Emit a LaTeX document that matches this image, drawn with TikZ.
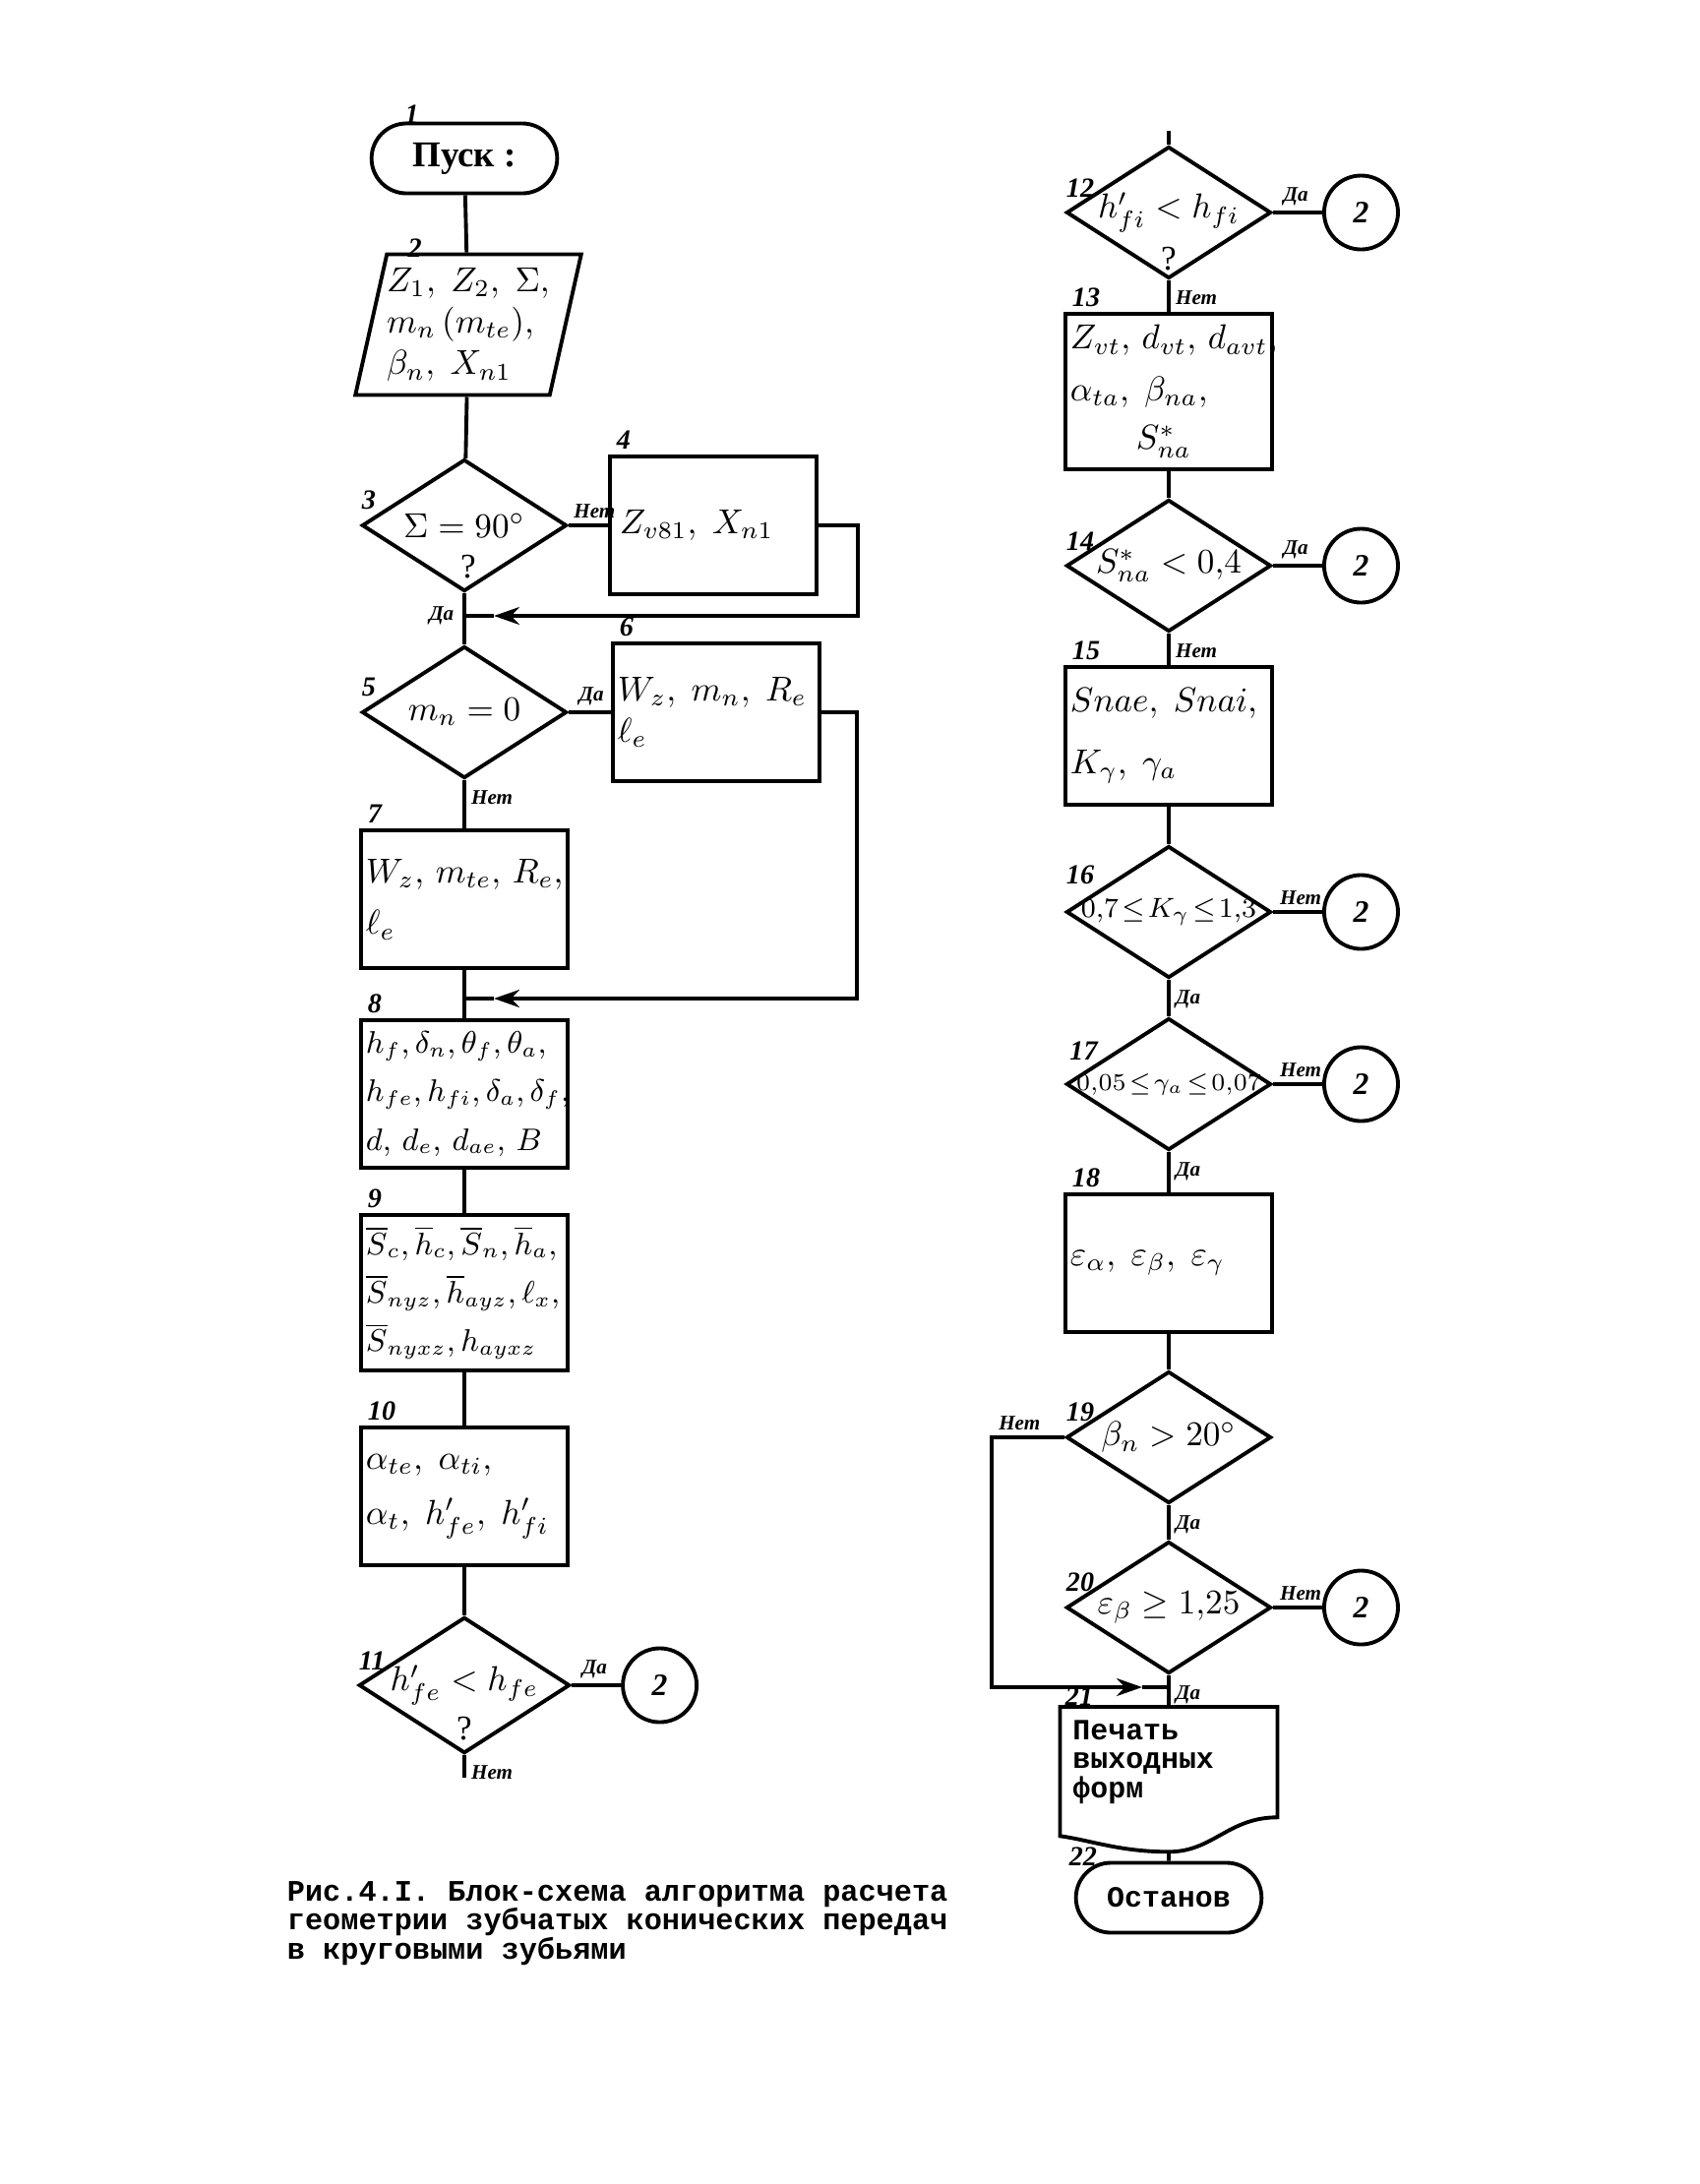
\documentclass[tikz,border=0pt]{standalone}
\usepackage{fontspec}
\setmainfont{Liberation Serif}
\newfontfamily\typefont{Liberation Mono}
\usetikzlibrary{positioning, arrows.meta, shapes.geometric, shapes.misc}

\begin{document}
\begin{tikzpicture}[
    x=0.01cm, y=-0.01cm,
    line width=1.1pt,
    term/.style={
        rounded rectangle,
        draw,
        minimum width=2.12cm,
        minimum height=0.71cm
    },
    io/.style={
        trapezium,
        trapezium left angle=77,
        trapezium right angle=103,
        trapezium stretches=true,
        draw,
        align=left,
        inner xsep=0pt,
        font=\normalsize,
        minimum width=2.09cm,
        minimum height=1.43cm
    },
    box/.style={
        rectangle,
        draw,
        align=left,
        font=\normalsize,
        text width=2.0cm,
        inner xsep=0.05cm,
        minimum height=1.4cm
    },
    dec/.style={
        diamond,
        draw,
        aspect=1.55,
        inner sep=0pt,
        font=\normalsize,
        minimum width=2.08cm,
        minimum height=1.34cm
    },
    conn/.style={
        circle,
        draw,
        minimum size=0.75cm,
        inner sep=0pt,
        font=\small\bfseries\itshape
    },
    num/.style={
        font=\footnotesize\bfseries\itshape,
        inner sep=0pt
    },
    yesno/.style={
        font={\fontsize{6}{7}\selectfont\bfseries\itshape},
        inner sep=0.5pt
    },
    arrow/.style={
        -{Stealth[length=2.6mm, width=1.8mm]}
    }
]
\useasboundingbox (0,0) rectangle (1728,2220);

% Left column
\node[term, font={\bfseries\fontsize{10.5}{12}\selectfont}] (t1) at (472,161) {Пуск :};

\node[io] (p2) at (476,330) {
    $Z_1,\; Z_2,\; \Sigma,$\\
    $m_n\,(m_{te}),$\\
    $\beta_n,\; X_{n1}$
};

\node[dec] (d3) at (472,534) {$\Sigma = 90^\circ$};
\node (q3) at (476,576) {?};

\node[box, right=0.4cm of d3] (b4) {\hspace*{0.05cm}$Z_{v81},\; X_{n1}$};

\coordinate (j3) at (472,626);

\node[dec] (d5) at (472,724) {$m_n = 0$};

\node[box, right=0.43cm of d5] (b6) {
    $W_z,\; m_n,\; R_e$\\
    $\ell_e$
};

\node[box] (b7) at (472,914) {
    $W_z,\, m_{te},\, R_e,$\\[3pt]
    $\ell_e$
};

\coordinate (j7) at (472,1015);

\node[box, font=\small] (b8) at (472,1112) {
    $h_f, \delta_n, \theta_f, \theta_a,$\\[3pt]
    $h_{fe}, h_{fi}, \delta_a, \delta_f,$\\[3pt]
    $d,\, d_e,\, d_{ae},\, B$
};

\node[box, font=\small] (b9) at (472,1314) {
    $\overline{S}_c, \overline{h}_c, \overline{S}_n, \overline{h}_a,$\\[3pt]
    $\overline{S}_{nyz}, \overline{h}_{ayz}, \ell_x,$\\[3pt]
    $\overline{S}_{nyxz}, h_{ayxz}$
};

\node[box] (b10) at (472,1521) {
    $\alpha_{te},\; \alpha_{ti},$\\[4pt]
    $\alpha_t,\; h'_{fe},\; h'_{fi}$
};

\node[dec] (d11) at (472,1713) {$h'_{fe} < h_{fe}$};
\node (q11) at (472,1757) {?};
\node[conn, right=0.5cm of d11] (c11) {2};
\coordinate (end11) at (472,1807);

% Right column
\coordinate (top12) at (1188,133);

\node[dec] (d12) at (1188,216) {$h'_{fi} < h_{fi}$};
\node (q12) at (1188,263) {?};
\node[conn, right=0.5cm of d12] (c12) {2};

\node[box] (b13) at (1188,398) {
    $Z_{vt},\, d_{vt},\, d_{avt},$\\[3pt]
    $\alpha_{ta},\; \beta_{na},$\\[2pt]
    \hspace*{0.67cm}$S^{*}_{na}$
};

\node[dec] (d14) at (1188,575) {$S^{*}_{na} < 0{,}4$};
\node[conn, right=0.5cm of d14] (c14) {2};

\node[box] (b15) at (1188,748) {
    $Snae,\; Snai,$\\[6pt]
    $K_\gamma,\; \gamma_a$
};

\node[dec, font=\footnotesize, inner xsep=-4pt] (d16) at (1188,927) {$0{,}7 \!\le\! K_\gamma \!\le\! 1{,}3$};
\node[conn, right=0.5cm of d16] (c16) {2};

\node[dec, font=\scriptsize, inner xsep=-4pt] (d17) at (1188,1102) {$0{,}05 \!\le\! \gamma_a \!\le\! 0{,}07$};
\node[conn, right=0.5cm of d17] (c17) {2};

\node[box] (b18) at (1188,1284) {$\varepsilon_\alpha,\; \varepsilon_\beta,\; \varepsilon_\gamma$};

\node[dec] (d19) at (1188,1461) {$\beta_n > 20^\circ$};

\node[dec] (d20) at (1188,1634) {$\varepsilon_\beta \ge 1{,}25$};
\node[conn, right=0.5cm of d20] (c20) {2};

\coordinate (j19) at (1188,1715);

\node[align=left, text width=1.95cm, minimum width=2.17cm, minimum height=1.03cm,
      inner xsep=0.11cm, anchor=north,
      font={\typefont\bfseries\fontsize{8.5}{8.4}\selectfont}] (doc21) at (1188,1735) {
    Печать\\
    выходных\\
    форм
};
\draw (doc21.north west) -- (doc21.north east) -- (doc21.south east)
    .. controls ([xshift=-0.5cm]doc21.south east) and ([xshift=0.45cm, yshift=-0.35cm]doc21.south)
    .. ([yshift=-0.35cm]doc21.south)
    .. controls ([xshift=-0.5cm, yshift=-0.35cm]doc21.south) and ([xshift=0.3cm, yshift=-0.23cm]doc21.south west)
    .. ([yshift=-0.19cm]doc21.south west) -- cycle;
\coordinate (doc21b) at ([yshift=-0.35cm]doc21.south);

\node[term, font={\typefont\bfseries\fontsize{8.5}{10}\selectfont}] (t22) at (1188,1929) {Останов};

% Block numbers
\node[num, above right=-1pt and -1pt of t1.north west] (n1) {1};
\node[num, above right=-2pt and 6pt of p2.top left corner] (n2) {2};
\node[num, above right=4pt and 0pt of d3.west] (n3) {3};
\node[num, above right=1pt and 2pt of b4.north west] (n4) {4};
\node[num, above right=4pt and 0pt of d5.west] (n5) {5};
\node[num, above right=1pt and 2pt of b6.north west] (n6) {6};
\node[num, above right=1pt and 2pt of b7.north west] (n7) {7};
\node[num, above right=1pt and 2pt of b8.north west] (n8) {8};
\node[num, above right=1pt and 2pt of b9.north west] (n9) {9};
\node[num, above right=1pt and 2pt of b10.north west] (n10) {10};
\node[num, above right=4pt and 0pt of d11.west] (n11) {11};
\node[num, above right=4pt and 0pt of d12.west] (n12) {12};
\node[num, above right=1pt and 2pt of b13.north west] (n13) {13};
\node[num, above right=4pt and 0pt of d14.west] (n14) {14};
\node[num, above right=1pt and 2pt of b15.north west] (n15) {15};
\node[num, above right=7.5pt and 0pt of d16.west] (n16) {16};
\node[num, above right=6.5pt and 1pt of d17.west] (n17) {17};
\node[num, above right=1pt and 2pt of b18.north west] (n18) {18};
\node[num, above right=4pt and 0pt of d19.west] (n19) {19};
\node[num, above right=4pt and 0pt of d20.west] (n20) {20};
\node[num, above right=0pt and 1pt of doc21.north west] (n21) {21};
\node[num, above left=-2pt and 3.5pt of t22.north west] (n22) {22};

% Branch labels
\node[yesno, above right=1pt and 0.5pt of d3.east] (no3) {Нет};
\node[yesno, left=2pt of j3] (yes3) {Да};
\node[yesno, above right=1pt and 2pt of d5.east] (yes5) {Да};
\node[yesno, below right=2pt and 1pt of d5.south] (no5) {Нет};
\node[yesno, above right=1pt and 2pt of d11.east] (yes11) {Да};
\node[yesno, below right=2pt and 1pt of d11.south] (no11) {Нет};
\node[yesno, above right=1pt and 2pt of d12.east] (yes12) {Да};
\node[yesno, below right=2pt and 1pt of d12.south] (no12) {Нет};
\node[yesno, above right=1pt and 2pt of d14.east] (yes14) {Да};
\node[yesno, below right=2pt and 1pt of d14.south] (no14) {Нет};
\node[yesno, above right=1pt and 1pt of d16.east] (no16) {Нет};
\node[yesno, below right=2pt and 1pt of d16.south] (yes16) {Да};
\node[yesno, above right=1pt and 1pt of d17.east] (no17) {Нет};
\node[yesno, below right=2pt and 1pt of d17.south] (yes17) {Да};
\node[yesno, above left=1pt and 6pt of d19.west] (no19) {Нет};
\node[yesno, below right=2pt and 1pt of d19.south] (yes19) {Да};
\node[yesno, above right=1pt and 1pt of d20.east] (no20) {Нет};
\node[yesno, below right=2pt and 1pt of d20.south] (yes20) {Да};

% Caption
\node[anchor=west, align=left, inner sep=0pt,
      font={\typefont\bfseries\fontsize{8.6}{8.3}\selectfont}] (caption) at (290,1955) {
    Рис.4.I. Блок-схема алгоритма расчета\\
    геометрии зубчатых конических передач\\
    в круговыми зубьями
};

% Connectors, left column
\draw (t1) -- (p2);
\draw (p2) -- (d3);
\draw (d3) -- (d5);
\draw (d3) -- (b4);
\draw[arrow] (b4.east) -- ++(40,0) |- ([xshift=0.3cm]j3);
\draw ([xshift=0.3cm]j3) -- (j3);
\draw (d5) -- (b6);
\draw (d5) -- (b7);
\draw[arrow] (b6.east) -- ++(36,0) |- ([xshift=0.3cm]j7);
\draw ([xshift=0.3cm]j7) -- (j7);
\draw (b7) -- (b8);
\draw (b8) -- (b9);
\draw (b9) -- (b10);
\draw (b10) -- (d11);
\draw (d11) -- (c11);
\draw (d11) -- (end11);

% Connectors, right column
\draw (top12) -- (d12);
\draw (d12) -- (c12);
\draw (d12) -- (b13);
\draw (b13) -- (d14);
\draw (d14) -- (c14);
\draw (d14) -- (b15);
\draw (b15) -- (d16);
\draw (d16) -- (c16);
\draw (d16) -- (d17);
\draw (d17) -- (c17);
\draw (d17) -- (b18);
\draw (b18) -- (d19);
\draw (d19) -- (d20);
\draw (d20) -- (c20);
\draw (d20) -- (doc21);
\draw[arrow] (d19.west) -- ++(-74,0) |- ([xshift=-0.27cm]j19);
\draw ([xshift=-0.27cm]j19) -- (j19);
\draw (doc21b) -- (t22);

\end{tikzpicture}
\end{document}
